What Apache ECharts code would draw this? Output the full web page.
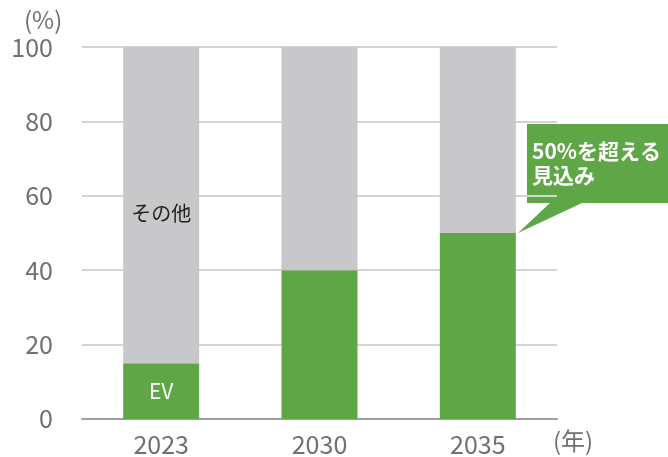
<!DOCTYPE html>
<html>
<head>
    <meta charset="utf-8">
    <title>EV比率</title>
    <script src="https://cdn.jsdelivr.net/npm/echarts@6/dist/echarts.min.js"></script>
    <style>
        html, body { margin: 0; padding: 0; background: #fff; }
        #chart { width: 668px; height: 457px; }
    </style>
</head>
<body>
    <div id="chart"></div>
    <script>
        // データ
        var years = ['2023', '2030', '2035'];
        var evShare = [15, 40, 50];
        var otherShare = [85, 60, 50];
        var yTicks = [0, 20, 40, 60, 80, 100];

        var FONT = '"Noto Sans CJK JP", "Noto Sans", sans-serif';
        var GREEN = '#5ea646';
        var GRAY = '#c8c8ca';

        var chart = echarts.init(document.getElementById('chart'));
        chart.setOption({
            animation: false,
            textStyle: { fontFamily: FONT },
            grid: { left: 82, right: 111, top: 47, bottom: 38 },
            xAxis: {
                type: 'category',
                data: years,
                axisTick: { show: false },
                axisLine: { lineStyle: { color: '#a0a0a3', width: 2 } },
                axisLabel: { color: '#707070', fontSize: 25, margin: 13 }
            },
            yAxis: {
                type: 'value',
                min: yTicks[0],
                max: yTicks[yTicks.length - 1],
                interval: 20,
                axisLine: { show: false },
                axisTick: { show: false },
                axisLabel: { color: '#707070', fontSize: 25, margin: 29 },
                splitLine: { lineStyle: { color: '#d4d4d6', width: 2 } }
            },
            series: [
                {
                    name: 'EV',
                    type: 'bar',
                    stack: 'total',
                    barWidth: 76,
                    data: evShare,
                    itemStyle: { color: GREEN },
                    label: {
                        show: true,
                        formatter: function (p) { return p.dataIndex === 0 ? 'EV' : ''; },
                        color: '#fff',
                        fontSize: 21
                    }
                },
                {
                    name: 'その他',
                    type: 'bar',
                    stack: 'total',
                    barWidth: 76,
                    data: otherShare,
                    itemStyle: { color: GRAY },
                    label: {
                        show: true,
                        formatter: function (p) { return p.dataIndex === 0 ? 'その他' : ''; },
                        color: '#222',
                        fontSize: 20,
                        position: 'inside',
                        offset: [0, 8]
                    }
                }
            ],
            graphic: [
                {
                    type: 'text', left: 24, top: 8,
                    style: { text: '(%)', fill: '#707070', font: '24px ' + FONT }
                },
                {
                    type: 'text', left: 553, top: 429,
                    style: { text: '(年)', fill: '#707070', font: '24px ' + FONT }
                },
                {
                    type: 'polygon',
                    shape: { points: [[527, 124], [668, 124], [668, 203], [582, 203], [518, 233], [550, 203], [527, 203]] },
                    style: { fill: GREEN }
                },
                {
                    type: 'text', left: 532, top: 139,
                    style: { text: '50%を超える\n見込み', fill: '#fff', font: 'bold 21px ' + FONT, lineHeight: 24 }
                }
            ]
        });
    </script>
</body>
</html>
